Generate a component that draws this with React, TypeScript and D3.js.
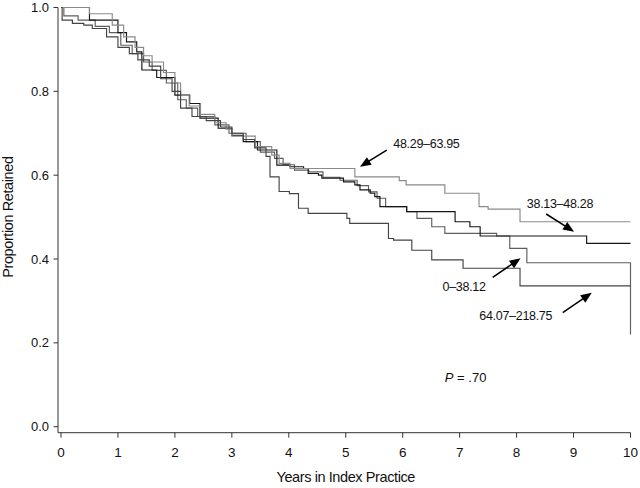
import React from "react";
import * as d3 from "d3";

// ---- data ----
const xTicks = [0, 1, 2, 3, 4, 5, 6, 7, 8, 9, 10];
const yTicks = [0, 0.2, 0.4, 0.6, 0.8, 1.0];

const groupNames = ["0–38.12", "38.13–48.28", "48.29–63.95", "64.07–218.75"];

// drop times (years) and survival after each drop
const timesA = [0.5, 0.9, 1.1, 1.3, 1.45, 1.6, 1.8, 2.0, 2.1, 2.25, 2.45, 2.7, 2.9, 3.0, 3.41, 3.7, 3.83, 4.02, 5.16, 5.94, 6.06, 6.74, 7.34, 7.5, 8.06, 10];
const survA = [0.985, 0.958, 0.93, 0.905, 0.885, 0.87, 0.845, 0.82, 0.79, 0.765, 0.745, 0.725, 0.71, 0.693, 0.668, 0.648, 0.628, 0.616, 0.596, 0.587, 0.577, 0.557, 0.525, 0.519, 0.489, 0.489];

const timesB = [0.5, 1.0, 1.15, 1.33, 1.42, 1.68, 2.0, 2.26, 2.44, 2.76, 3.0, 3.2, 3.45, 3.79, 4.02, 4.26, 4.34, 4.52, 4.58, 4.96, 5.16, 5.25, 5.43, 5.51, 5.6, 6.07, 6.92, 7.18, 7.36, 9.23, 10];
const survB = [0.97, 0.94, 0.918, 0.894, 0.851, 0.833, 0.791, 0.771, 0.736, 0.712, 0.695, 0.68, 0.66, 0.624, 0.62, 0.616, 0.604, 0.6, 0.593, 0.584, 0.577, 0.565, 0.557, 0.549, 0.525, 0.513, 0.489, 0.477, 0.455, 0.4375, 0.4375];

const timesC = [0.05, 0.3, 0.6, 0.85, 1.05, 1.25, 1.45, 1.6, 1.85, 2.05, 2.2, 2.4, 2.7, 2.95, 3.25, 3.5, 3.75, 3.9, 4.1, 4.35, 4.6, 4.9, 5.2, 5.4, 5.55, 5.7, 6.07, 6.25, 6.51, 6.74, 7.65, 7.88, 8.18, 10];
const survC = [0.98, 0.97, 0.955, 0.94, 0.91, 0.89, 0.87, 0.85, 0.82, 0.78, 0.76, 0.74, 0.72, 0.7, 0.68, 0.655, 0.64, 0.625, 0.612, 0.608, 0.595, 0.588, 0.575, 0.56, 0.545, 0.525, 0.513, 0.497, 0.477, 0.461, 0.455, 0.4255, 0.391, 0.22];

const timesD = [0.02, 0.2, 0.4, 0.55, 0.8, 1.0, 1.2, 1.35, 1.55, 1.75, 1.95, 2.1, 2.3, 2.55, 2.8, 3.0, 3.2, 3.4, 3.6, 3.67, 3.83, 4.01, 4.17, 4.34, 5.02, 5.07, 5.75, 5.84, 6.16, 6.51, 7.06, 8.06, 10];
const survD = [0.97, 0.962, 0.958, 0.95, 0.93, 0.905, 0.89, 0.875, 0.86, 0.83, 0.8, 0.76, 0.74, 0.73, 0.715, 0.7, 0.685, 0.665, 0.645, 0.596, 0.561, 0.556, 0.521, 0.509, 0.497, 0.485, 0.449, 0.445, 0.421, 0.398, 0.378, 0.336, 0.336];

const seriesColors = ["#5e5e5e", "#161616", "#8a8a8a", "#444444"];

// annotation positions in data units: label start, label y, arrow tail, arrow tip
const labelX = [6.7, 8.18, 5.835, 7.345];
const labelY = [0.334, 0.533, 0.676, 0.2648];
const arrowFrom = [[7.58, 0.3564], [8.52, 0.5074], [5.72, 0.66], [8.81, 0.272]];
const arrowTo = [[8.07, 0.4017], [9.01, 0.4652], [5.25, 0.62], [9.32, 0.3197]];

const pValue = { x: 6.74, y: 0.1186, text: " = .70" };

const W = 640;
const H = 488;

export default function App() {
  const x = d3.scaleLinear().domain([0, 10]).range([61, 630.5]);
  const y = d3.scaleLinear().domain([0, 1]).range([426.7, 7.5]);
  const axisY = 432.7;
  const axisX = 58;

  const allSeries = [
    { t: timesC, s: survC },
    { t: timesB, s: survB },
    { t: timesA, s: survA },
    { t: timesD, s: survD },
  ];

  const line = d3
    .line<[number, number]>()
    .x((d) => x(d[0]))
    .y((d) => y(d[1]))
    .curve(d3.curveStepAfter);

  const font = "'Liberation Sans', Arial, Helvetica, sans-serif";

  const arrowHead = (fx: number, fy: number, tx: number, ty: number) => {
    const x1 = x(fx), y1 = y(fy), x2 = x(tx), y2 = y(ty);
    const ang = Math.atan2(y2 - y1, x2 - x1);
    const len = 11, half = 4.5;
    const bx = x2 - len * Math.cos(ang), by = y2 - len * Math.sin(ang);
    const px = -Math.sin(ang), py = Math.cos(ang);
    return {
      line: [x1, y1, bx + 1 * Math.cos(ang), by + 1 * Math.sin(ang)],
      poly: `${x2},${y2} ${bx + half * px},${by + half * py} ${bx - half * px},${by - half * py}`,
    };
  };

  return (
    <svg
      width={W}
      height={H}
      style={{ position: "absolute", left: 0, top: 0, background: "#fff" }}
      fontFamily={font}
    >
      <rect width={W} height={H} fill="#fff" />
      {/* curves */}
      {allSeries.map((ser, i) => {
        const pts: [number, number][] = [[0, 1]];
        ser.t.forEach((t, k) => pts.push([t, ser.s[k]]));
        return (
          <path
            key={i}
            d={line(pts) || ""}
            fill="none"
            stroke={seriesColors[i]}
            strokeWidth={1.15}
          />
        );
      })}

      {/* y axis */}
      <line x1={axisX} x2={axisX} y1={y(1)} y2={axisY} stroke="#333" strokeWidth={1} />
      {yTicks.map((v) => (
        <g key={v}>
          <line x1={axisX - 4.5} x2={axisX} y1={y(v)} y2={y(v)} stroke="#333" />
          <text
            x={axisX - 9}
            y={y(v)}
            dy="0.35em"
            textAnchor="end"
            fontSize={13}
            fill="#111"
          >
            {d3.format(".1f")(v)}
          </text>
        </g>
      ))}
      {/* x axis */}
      <line x1={axisX} x2={x(10)} y1={axisY} y2={axisY} stroke="#333" strokeWidth={1} />
      {xTicks.map((t) => (
        <g key={t}>
          <line x1={x(t)} x2={x(t)} y1={axisY} y2={axisY + 5} stroke="#333" />
          <text x={x(t)} y={axisY + 24} textAnchor="middle" fontSize={13.5} fill="#111">
            {t}
          </text>
        </g>
      ))}

      {/* axis titles */}
      <text
        x={(x(0) + x(10)) / 2}
        y={482}
        textAnchor="middle"
        fontSize={14.5}
        letterSpacing={-0.4}
        fill="#111"
      >
        Years in Index Practice
      </text>
      <text
        transform={`translate(12.5, ${(y(0) + y(1)) / 2}) rotate(-90)`}
        textAnchor="middle"
        fontSize={14.5}
        letterSpacing={-0.4}
        fill="#111"
      >
        Proportion Retained
      </text>

      {/* annotations */}
      {groupNames.map((g, i) => {
        const a = arrowHead(arrowFrom[i][0], arrowFrom[i][1], arrowTo[i][0], arrowTo[i][1]);
        return (
          <g key={g}>
            <text x={x(labelX[i])} y={y(labelY[i])} dy="0.35em" fontSize={12.5} letterSpacing={-0.3} fill="#111">
              {g}
            </text>
            <line x1={a.line[0]} y1={a.line[1]} x2={a.line[2]} y2={a.line[3]} stroke="#000" strokeWidth={1.5} />
            <polygon points={a.poly} fill="#000" />
          </g>
        );
      })}

      <text x={x(pValue.x)} y={y(pValue.y)} dy="0.35em" fontSize={13} fill="#111">
        <tspan fontStyle="italic">P</tspan>
        {pValue.text}
      </text>
    </svg>
  );
}
